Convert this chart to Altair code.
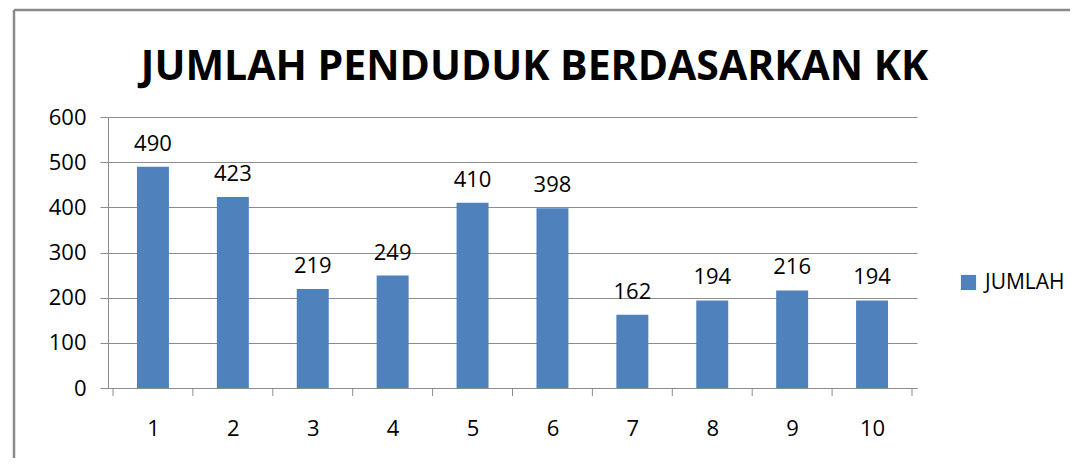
import altair as alt
import pandas as pd

title_text = "JUMLAH PENDUDUK BERDASARKAN KK"
categories = [1, 2, 3, 4, 5, 6, 7, 8, 9, 10]
jumlah = [490, 423, 219, 249, 410, 398, 162, 194, 216, 194]
boundaries = [0.5, 1.5, 2.5, 3.5, 4.5, 5.5, 6.5, 7.5, 8.5, 9.5, 10.5]
y_ticks = [0, 100, 200, 300, 400, 500, 600]

FONT = "Open Sans"
BLUE = "#4F81BD"
GRID = "#8c8c8c"
FRAME = "#8a8a8a"

W, H = 809, 271
PAD = {"left": 100, "top": 109, "right": 153, "bottom": 70}

df = pd.DataFrame({"kk": categories, "jumlah": jumlah})
df["series"] = "JUMLAH"
df["lo"] = df["kk"] - 0.2
df["hi"] = df["kk"] + 0.2

xscale = alt.Scale(domain=[0.5, 10.5], nice=False, zero=False)
yscale = alt.Scale(domain=[0, 600], nice=False)

base = alt.Chart(df)

bars = base.mark_bar(color=BLUE, orient="vertical").encode(
    x=alt.X("lo:Q", scale=xscale,
            axis=alt.Axis(values=categories, format="d", title=None, ticks=False,
                          grid=False, domain=True, domainColor=GRID, domainWidth=1,
                          labelFont=FONT, labelFontSize=22, labelColor="#000",
                          labelPadding=30)),
    x2="hi:Q",
    y=alt.Y("jumlah:Q", scale=yscale,
            axis=alt.Axis(values=y_ticks, title=None, grid=True, gridColor=GRID,
                          gridWidth=1, domainColor=GRID, tickColor=GRID, tickSize=8,
                          labelFont=FONT, labelFontSize=22, labelColor="#000",
                          labelPadding=14)),
    y2=alt.datum(0),
    color=alt.Color("series:N", scale=alt.Scale(range=[BLUE]),
                    legend=alt.Legend(title=None, orient="none", legendX=850, legendY=155,
                                      symbolType="square", symbolSize=230,
                                      symbolStrokeWidth=0, labelFont=FONT,
                                      labelFontSize=21, labelColor="#000",
                                      labelOffset=6)),
)

labels = base.mark_text(font=FONT, fontSize=22, color="#000", baseline="alphabetic",
                        dy=-16).encode(
    x=alt.X("kk:Q", scale=xscale),
    y=alt.Y("jumlah:Q", scale=yscale),
    text=alt.Text("jumlah:Q"),
)

tick_df = pd.DataFrame({"b": boundaries})
xticks = alt.Chart(tick_df).mark_rule(color=GRID, strokeWidth=1).encode(
    x=alt.X("b:Q", scale=xscale),
    y=alt.value(H),
    y2=alt.value(H + 8),
)

single = alt.Chart(pd.DataFrame({"t": [title_text]}))

frame_top = single.mark_rule(color=FRAME, strokeWidth=2.5).encode(
    x=alt.value(-94), x2=alt.value(W + 153), y=alt.value(-107),
)
frame_left = single.mark_rule(color=FRAME, strokeWidth=2.5).encode(
    x=alt.value(-94), y=alt.value(-107), y2=alt.value(H + 70),
)

title = single.mark_text(font=FONT, fontSize=41, fontWeight="bold", color="#000",
                         align="center", baseline="alphabetic").encode(
    x=alt.value(W / 2 + 22), y=alt.value(-37), text="t:N",
)

chart = alt.layer(frame_top, frame_left, bars, labels, xticks, title).properties(
    width=W, height=H,
    autosize=alt.AutoSizeParams(type="none"),
    padding=PAD,
).configure_view(stroke=None)

chart.save("out.html", embed_options={"renderer": "svg", "actions": False})
